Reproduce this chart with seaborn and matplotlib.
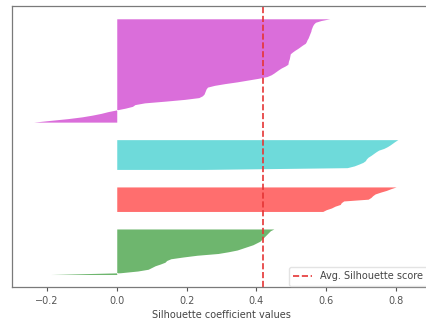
import numpy as np
import matplotlib
matplotlib.use("Agg")
import matplotlib.pyplot as plt
import seaborn as sns

# silhouette values per cluster, sorted ascending (bottom -> top)
cluster_names = ["green", "red", "cyan", "magenta"]
green_vals = [-0.19, 0.01, 0.06, 0.09, 0.10, 0.11, 0.125, 0.138, 0.143, 0.155,
              0.19, 0.23, 0.29, 0.32, 0.345, 0.36, 0.375, 0.39, 0.40, 0.41,
              0.415, 0.42, 0.425, 0.43, 0.435, 0.44, 0.45]
red_vals = [0.59, 0.60, 0.615, 0.625, 0.64, 0.643, 0.65, 0.72, 0.728, 0.733,
            0.74, 0.755, 0.772, 0.785, 0.80]
cyan_vals = [0.25, 0.66, 0.68, 0.693, 0.705, 0.712, 0.715, 0.72, 0.728, 0.735,
             0.742, 0.75, 0.765, 0.775, 0.783, 0.79, 0.797, 0.805]
magenta_vals = [-0.238, -0.19, -0.14, -0.10, -0.07, -0.045, -0.025, 0.0, 0.025, 0.045,
                0.052, 0.08, 0.14, 0.195, 0.235, 0.245, 0.25, 0.252, 0.254, 0.256,
                0.26, 0.28, 0.31, 0.345, 0.375, 0.405, 0.43, 0.442, 0.45, 0.457,
                0.464, 0.472, 0.482, 0.49, 0.491, 0.492, 0.494, 0.495, 0.496, 0.497,
                0.503, 0.51, 0.518, 0.525, 0.532, 0.54, 0.543, 0.545, 0.548, 0.55,
                0.552, 0.554, 0.556, 0.557, 0.559, 0.561, 0.564, 0.569, 0.585, 0.61]
cluster_colors = ["#008000", "#ff0000", "#00bfbf", "#bf00bf"]
avg_score = 0.42
xticks = [-0.2, 0.0, 0.2, 0.4, 0.6, 0.8]

sns.set_theme(style="white", color_codes=False)
plt.rcParams["font.family"] = ["DejaVu Sans"]
plt.rcParams["axes.edgecolor"] = "#7a7a7a"
plt.rcParams["xtick.color"] = "#555555"
plt.rcParams["axes.labelcolor"] = "#444444"

fig = plt.figure(figsize=(4.27, 3.21), dpi=100)
ax = fig.add_axes([12 / 427, 1 - 287.3 / 321, (431 - 12) / 427, (287.3 - 6) / 321])

gap = 10
y_lower = 0
for vals, col in zip([green_vals, red_vals, cyan_vals, magenta_vals], cluster_colors):
    n = len(vals)
    ys = np.arange(y_lower, y_lower + n)
    ax.fill_betweenx(ys, 0, np.array(vals), facecolor=col, edgecolor=col, alpha=0.57, linewidth=0)
    y_lower = y_lower + n - 1 + gap

ax.axvline(x=avg_score, color="#e53535", linestyle="--", linewidth=1.2,
           label="Avg. Silhouette score")
ax.set_xlim(-0.3, 0.9)
ax.set_yticks([])
ax.set_xticks(xticks)
ax.tick_params(axis="x", labelsize=7, length=3, width=0.8, colors="#555555", bottom=True)
ax.set_xlabel("Silhouette coefficient values", fontsize=7, color="#444444", labelpad=3)
for s in ax.spines.values():
    s.set_linewidth(0.9)
leg = ax.legend(loc="lower right", fontsize=7, frameon=True, fancybox=True,
                handlelength=2.0, borderpad=0.45, borderaxespad=0.15,
                bbox_to_anchor=(1.0 - 2 / 419, 0.0))
leg.get_frame().set_edgecolor("#dddddd")
for t in leg.get_texts():
    t.set_color("#444444")

fig.savefig("out.png", dpi=100)
